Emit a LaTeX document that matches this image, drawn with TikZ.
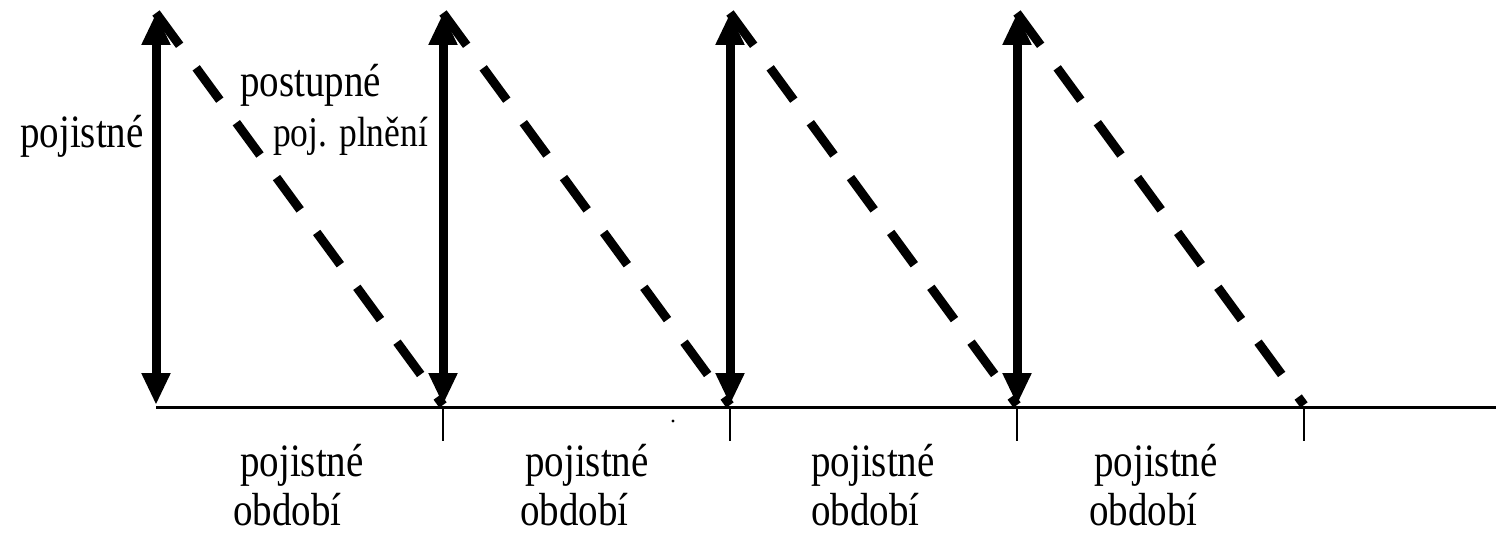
\documentclass[tikz,border=0pt]{standalone}
\usepackage{fontspec}
\usepackage{graphicx}
\setmainfont{Liberation Serif}
\usetikzlibrary{arrows.meta}
\newcommand{\tallt}[1]{\scalebox{1}[1.19]{#1}}
\begin{document}
\begin{tikzpicture}[x=1pt,y=-1pt,
  dbl/.style={line width=9pt,{Triangle[length=32pt,width=27pt]}-{Triangle[length=32pt,width=27pt]}},
  dsh/.style={line width=9pt,dash pattern=on 40pt off 28pt,line cap=butt},
  axis/.style={line width=3pt},
  tick/.style={line width=2pt},
  lbl/.style={font=\fontsize{39}{47}\selectfont,inner sep=0pt,anchor=base west},
  lbls/.style={font=\fontsize{35.5}{43}\selectfont,inner sep=0pt,anchor=base west}]
\useasboundingbox (0,0) rectangle (1496,534);
% coordinates
\foreach \i/\x in {1/156,2/443,3/730,4/1017,5/1304}{
  \coordinate (t\i) at (\x,13);
  \coordinate (b\i) at (\x,405);
  \coordinate (a\i) at (\x,407);
  \coordinate (k\i) at (\x,441);
}
\coordinate (aend) at (1496,407);
% axis
\draw[axis] (a1) -- (aend);
\foreach \i in {2,3,4,5}{\draw[tick] (a\i) -- (k\i);}
% double arrows
\foreach \i in {1,2,3,4}{\draw[dbl] (b\i) -- (t\i);}
% dashed lines
\draw[dsh] (t1) -- (b2);
\draw[dsh] (t2) -- (b3);
\draw[dsh] (t3) -- (b4);
\draw[dsh] (t4) -- (b5);
% small dot
\fill (673,421) circle (1.6pt);
% labels
\node[lbl] (lp) at (20,148) {\tallt{pojistné}};
\node[lbl] (lpost) at (240,97) {\tallt{postupné}};
\node[lbls] (lplo) at (273,147) {\tallt{poj. plnění}};
\node[lbl] (p1) at (240,476) {\tallt{pojistné}};
\node[lbl] (o1) at (233,525) {\tallt{období}};
\node[lbl] (p2) at (525,476) {\tallt{pojistné}};
\node[lbl] (o2) at (520,525) {\tallt{období}};
\node[lbl] (p3) at (811,476) {\tallt{pojistné}};
\node[lbl] (o3) at (811,525) {\tallt{období}};
\node[lbl] (p4) at (1094,476) {\tallt{pojistné}};
\node[lbl] (o4) at (1089,525) {\tallt{období}};
\end{tikzpicture}
\end{document}
